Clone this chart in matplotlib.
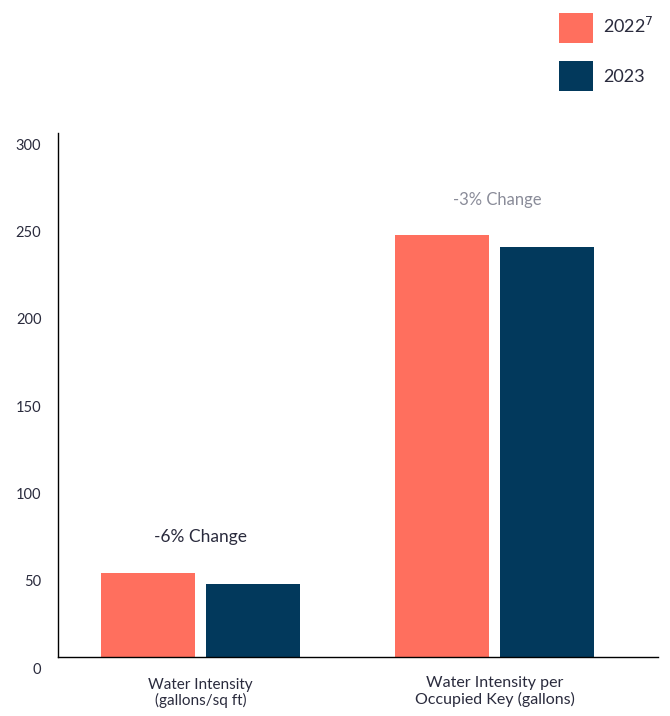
import matplotlib
matplotlib.use("Agg")
import matplotlib.pyplot as plt
import matplotlib.transforms as mtrans
import numpy as np

categories = ["Water Intensity\n(gallons/sq ft)", "Water Intensity per\nOccupied Key (gallons)"]
vals_2022 = [48.3, 241.6]
vals_2023 = [41.8, 234.7]
changes = ["-6% Change", "-3% Change"]
yticks = [0, 50, 100, 150, 200, 250, 300]

c22 = "#ff6f5e"
c23 = "#02395c"
txt = "#2a2b3d"

plt.rcParams["font.family"] = ["Lato", "DejaVu Sans"]

fig = plt.figure(figsize=(6.7, 7.16), dpi=100)
ax = fig.add_axes([0.0866, 0.0824, 0.8954, 0.7316])

x = np.arange(len(categories))
w = 0.32
off = 0.179
ax.bar(x - off, vals_2022, w, color=c22, label="2022$^7$")
ax.bar(x + off, vals_2023, w, color=c23, label="2023")

ax.set_xlim(-0.485, 1.556)
ax.set_ylim(0, 300)
ax.set_yticks(yticks)
ax.set_yticklabels([str(t) for t in yticks], fontsize=10.5, color=txt)
ax.tick_params(axis="y", length=0, pad=12)
ax.tick_params(axis="x", length=0)
ax.set_xticks(x)
ax.set_xticklabels([])
shift = mtrans.ScaledTranslation(0, -8 / 72, fig.dpi_scale_trans)
for lbl in ax.get_yticklabels():
    lbl.set_transform(lbl.get_transform() + shift)

ax.text(0, -12, categories[0], ha="center", va="top", fontsize=11, color=txt, linespacing=1.1)
ax.text(1, -11, categories[1], ha="center", va="top", fontsize=11.5, color=txt, linespacing=1.15)

ax.text(0, 69, changes[0], ha="center", va="center", fontsize=12.5, color=txt)
ax.text(1.01, 262, changes[1], ha="center", va="center", fontsize=12, color="#8a8c99")

for s in ["top", "right"]:
    ax.spines[s].set_visible(False)
ax.spines["left"].set_linewidth(1)
ax.spines["bottom"].set_linewidth(1)

leg = fig.legend(loc="upper right", bbox_to_anchor=(0.995, 1.0), frameon=False,
                 fontsize=13, handlelength=1.9, handleheight=2.2,
                 labelspacing=1.0, handletextpad=0.55, borderaxespad=0.3)
for t in leg.get_texts():
    t.set_color(txt)

fig.savefig("out.png", dpi=100)
